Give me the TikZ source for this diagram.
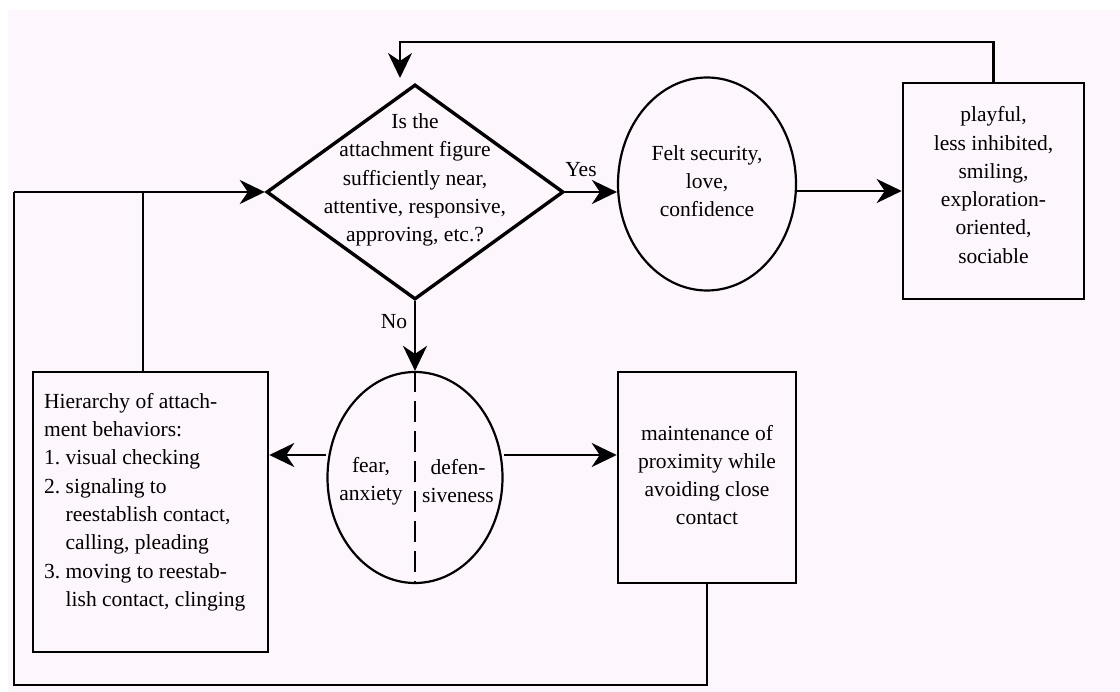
\documentclass[tikz,border=0pt]{standalone}
\usepackage{fontspec}
\setmainfont{Liberation Serif}
\usetikzlibrary{shapes.geometric,arrows.meta,calc}
\definecolor{bgpink}{RGB}{253,247,253}
\begin{document}
\begin{tikzpicture}[x=1pt,y=-1pt,
  every node/.style={font=\rmfamily\fontsize{21.5}{28.3}\selectfont, inner sep=0pt},
  line/.style={line width=2.6pt},
  arr/.style={line, -{Stealth[length=25pt,width=24pt,inset=8pt]}},
  boxnode/.style={draw, rectangle, line width=2.6pt},
  ellnode/.style={draw, ellipse, line width=2.2pt},
  txt/.style={align=center},
]
\useasboundingbox (0,0) rectangle (1120,692);
\fill[white] (0,0) rectangle (1120,692);
\fill[bgpink] (8,10) rectangle (1120,692);

% nodes
\node[draw, diamond, line width=3.4pt, minimum width=297pt, minimum height=215pt] (d) at (415,192) {};
\node[txt] (dtext) at (415,180) {Is the\\attachment figure\\sufficiently near,\\attentive, responsive,\\approving, etc.?};
\node[ellnode, minimum width=178pt, minimum height=213pt] (e1) at (707,184) {};
\node[txt] (e1text) at (707,181) {Felt security,\\love,\\confidence};
\node[boxnode, minimum width=181pt, minimum height=216pt] (play) at (993.5,191) {};
\node[txt] (playtext) at (993.5,185) {playful,\\less inhibited,\\smiling,\\exploration-\\oriented,\\sociable};
\node[ellnode, minimum width=175pt, minimum height=211pt] (e2) at (415,477.5) {};
\node[txt] (fear) at (371,481) {fear,\\anxiety};
\node[txt] (def) at (458,481) {defen-\\siveness};
\node[boxnode, minimum width=235pt, minimum height=280pt] (hier) at (150.5,512) {};
\node[align=left, anchor=north west] (hiertext) at (44,393) {Hierarchy of attach-\\ment behaviors:\\1.\ visual checking\\2.\ signaling to\\\hphantom{2.\ }reestablish contact,\\\hphantom{2.\ }calling, pleading\\3.\ moving to reestab-\\\hphantom{3.\ }lish contact, clinging};
\node[boxnode, minimum width=178pt, minimum height=211pt] (maint) at (707,477.5) {};
\node[txt] (mtext) at (707,475) {maintenance of\\proximity while\\avoiding close\\contact};
\node (yes) at (581,170) {Yes};
\node (no) at (394,322) {No};

% helper coordinates
\coordinate (toprow) at (400,42);
\coordinate (toptip) at (400,78);
\coordinate (lc) at (14,192);
\coordinate (lj) at (143,192);
\coordinate (bl) at (14,685);
\coordinate (ay) at (0,455);

% connectors
\draw[line] (e2.north) -- (e2.south) ;
\draw[draw=bgpink, line width=3.4pt, dash pattern=on 0pt off 21pt on 9pt off 0pt] (e2.north) -- (e2.south);
\draw[arr] (play.north) |- (toprow) -- (toptip);
\draw[arr] (lc) -- (d.west);
\draw[line] (lj) -- (lj |- hier.north);
\draw[line] (maint.south) |- (bl) -- (lc);
\draw[arr] (d.east) -- (d.east -| e1.west);
\draw[arr] (e1.east |- play.west) -- (play.west);
\draw[arr] (d.south) -- (e2.north);
\draw[arr] (e2.west |- ay) -- (hier.east |- ay);
\draw[arr] (e2.east |- ay) -- (maint.west |- ay);
\end{tikzpicture}
\end{document}
